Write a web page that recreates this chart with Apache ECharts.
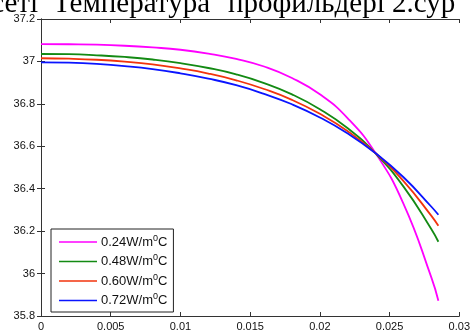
<!DOCTYPE html>
<html>
<head>
<meta charset="utf-8">
<script src="https://cdn.jsdelivr.net/npm/echarts@6/dist/echarts.min.js"></script>
<style>
  html, body { margin: 0; padding: 0; background: #fff; }
  #chart { width: 473px; height: 334px; }
</style>
</head>
<body>
<div id="chart"></div>
<script>
// Distance from the inner surface (m)
const positions = [0, 0.002, 0.004, 0.006, 0.008, 0.010, 0.012, 0.014, 0.016, 0.018, 0.020, 0.022, 0.024, 0.026, 0.028, 0.0285];

// Temperature (°C) for each thermal conductivity
const temp024 = [37.082, 37.081, 37.079, 37.074, 37.066, 37.055, 37.037, 37.012, 36.976, 36.922, 36.845, 36.732, 36.567, 36.329, 35.981, 35.872];
const temp048 = [37.035, 37.034, 37.029, 37.021, 37.009, 36.992, 36.969, 36.939, 36.898, 36.845, 36.775, 36.685, 36.566, 36.410, 36.209, 36.150];
const temp060 = [37.015, 37.013, 37.008, 36.999, 36.986, 36.967, 36.943, 36.911, 36.870, 36.819, 36.753, 36.671, 36.567, 36.436, 36.272, 36.225];
const temp072 = [36.996, 36.994, 36.988, 36.978, 36.964, 36.944, 36.919, 36.888, 36.847, 36.798, 36.736, 36.660, 36.567, 36.454, 36.315, 36.277];

const seriesNames = ['0.24', '0.48', '0.60', '0.72'];
const seriesColors = ['#ff00ff', '#138a13', '#f2330d', '#0a14ff'];
const seriesValues = [temp024, temp048, temp060, temp072];

const xTicks = { min: 0, max: 0.03, interval: 0.005 };
const yTicks = { min: 35.8, max: 37.2, interval: 0.2 };

// Caption line above the plot, word by word
const headlineWords = ['сеті', 'Температура', 'профильдері', '2.сур'];
const headlineX = [38, 53, 228, 392];
const headlineAlign = ['right', 'left', 'left', 'left'];

const chart = echarts.init(document.getElementById('chart'), null, { renderer: 'canvas' });

const axisLine = { show: true, lineStyle: { color: '#333', width: 1 } };
const labelFont = { color: '#111', fontFamily: 'Liberation Sans, Arial, sans-serif', fontSize: 11 };

const series = seriesNames.map((name, i) => ({
  name: name,
  type: 'line',
  showSymbol: false,
  smooth: true,
  lineStyle: { color: seriesColors[i], width: 1.8 },
  itemStyle: { color: seriesColors[i] },
  data: positions.map((x, j) => [x, seriesValues[i][j]]),
  animation: false
}));

const headline = headlineWords.map((w, i) => ({
  type: 'text',
  silent: true,
  style: {
    text: w,
    x: headlineX[i],
    y: -10,
    textAlign: headlineAlign[i],
    textVerticalAlign: 'top',
    fontFamily: 'Liberation Serif, Times New Roman, serif',
    fontSize: 29,
    fill: '#000'
  }
}));

chart.setOption({
  animation: false,
  backgroundColor: '#fff',
  grid: { left: 41, right: 13, top: 19, bottom: 18, show: false },
  graphic: headline,
  legend: {
    orient: 'vertical',
    left: 51,
    top: 229,
    padding: [5, 6, 5, 8],
    itemGap: 5,
    itemWidth: 38,
    itemHeight: 12,
    backgroundColor: '#fff',
    borderColor: '#222',
    borderWidth: 1,
    borderRadius: 0,
    icon: 'path://M0,5.2 L38,5.2 L38,6.8 L0,6.8 Z',
    formatter: name => name + 'W/m{sup|0}C',
    textStyle: {
      color: '#111',
      fontFamily: 'Liberation Sans, Arial, sans-serif',
      fontSize: 13,
      padding: [0, 0, 0, -1],
      rich: {
        sup: { fontSize: 9, verticalAlign: 'bottom', padding: [0, 0, 7, 0], color: '#111' }
      }
    },
    data: seriesNames
  },
  xAxis: [{
    type: 'value',
    min: xTicks.min, max: xTicks.max, interval: xTicks.interval,
    axisLine: axisLine,
    axisTick: { show: true, inside: true, length: 4, lineStyle: { color: '#333' } },
    axisLabel: Object.assign({ margin: 5 }, labelFont),
    splitLine: { show: false }
  }, {
    type: 'value', position: 'top',
    min: xTicks.min, max: xTicks.max, interval: xTicks.interval,
    axisLine: axisLine,
    axisTick: { show: true, inside: true, length: 4, lineStyle: { color: '#333' } },
    axisLabel: { show: false },
    splitLine: { show: false }
  }],
  yAxis: [{
    type: 'value',
    min: yTicks.min, max: yTicks.max, interval: yTicks.interval,
    axisLine: axisLine,
    axisTick: { show: true, inside: true, length: 4, lineStyle: { color: '#333' } },
    axisLabel: Object.assign({ margin: 6 }, labelFont),
    splitLine: { show: false }
  }, {
    type: 'value', position: 'right',
    min: yTicks.min, max: yTicks.max, interval: yTicks.interval,
    axisLine: axisLine,
    axisTick: { show: true, inside: true, length: 4, lineStyle: { color: '#333' } },
    axisLabel: { show: false },
    splitLine: { show: false }
  }],
  series: series
});
</script>
</body>
</html>
